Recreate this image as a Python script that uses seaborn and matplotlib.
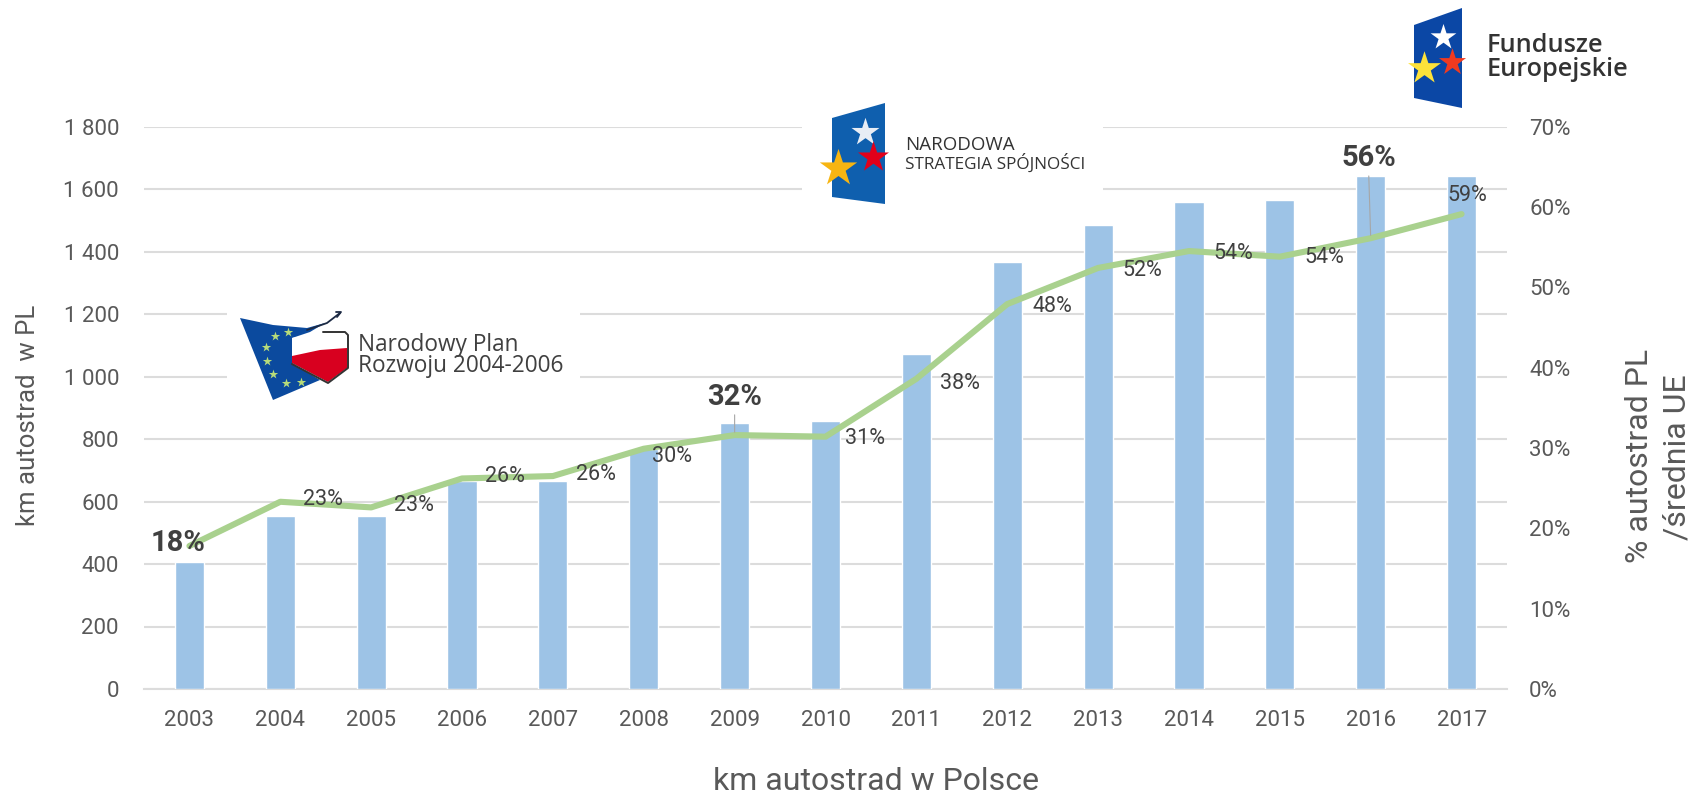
import matplotlib
matplotlib.use("Agg")
import matplotlib.pyplot as plt
from matplotlib.patches import Polygon, Rectangle
import seaborn as sns

years = ["2003","2004","2005","2006","2007","2008","2009","2010","2011","2012","2013","2014","2015","2016","2017"]
km_values = [407,555,555,665,665,767,852,859,1072,1367,1486,1560,1564,1642,1642]
pct_values = [17.8,23.3,22.6,26.2,26.5,29.9,31.6,31.4,38.6,47.9,52.4,54.5,53.8,56.1,59.1]
pct_labels = ["18%","23%","23%","26%","26%","30%","32%","31%","38%","48%","52%","54%","54%","56%","59%"]
bold_years = ["2003","2009","2016"]
left_ticks = [0,200,400,600,800,1000,1200,1400,1600,1800]
left_tick_labels = ["0","200","400","600","800","1 000","1 200","1 400","1 600","1 800"]
right_ticks = [0,10,20,30,40,50,60,70]
right_tick_labels = ["0%","10%","20%","30%","40%","50%","60%","70%"]

W, H = 1696, 795
sns.set_theme(style="white")
plt.rcParams["font.family"] = ["Roboto", "DejaVu Sans"]
TXT = "#595959"; DARK = "#404040"

fig = plt.figure(figsize=(W/100, H/100), dpi=100, facecolor="white")
L, R, T, B = 144, 1507, 126.5, 689
ax = fig.add_axes([L/W, 1-B/H, (R-L)/W, (B-T)/H])
sns.barplot(x=years, y=km_values, ax=ax, color="#9dc3e6", saturation=1, width=0.32, zorder=3)
ax.set_ylim(0, 1800); ax.set_xlim(-0.5, 14.5)
ax.set_yticks(left_ticks, left_tick_labels)
ax.grid(axis="y", color="#dcdcdc", lw=1.5, zorder=0); ax.set_axisbelow(True)
ax.tick_params(axis="y", length=0, pad=18, labelsize=16, labelcolor=TXT)
ax.tick_params(axis="x", length=0, pad=15, labelsize=16, labelcolor=TXT)
ax.set_xlabel(""); ax.set_ylabel("")
for s in ax.spines.values(): s.set_visible(False)
ax.spines["bottom"].set_visible(True); ax.spines["bottom"].set_color("#dcdcdc"); ax.spines["bottom"].set_linewidth(1.5)

tw = ax.twinx()
sns.lineplot(x=years, y=pct_values, ax=tw, color="#a9d18e", lw=4.4, sort=False, solid_capstyle="round")
tw.set_ylim(0, 70); tw.set_xlim(-0.5, 14.5)
tw.set_yticks(right_ticks, right_tick_labels)
tw.tick_params(axis="y", length=0, pad=16, labelsize=16, labelcolor=TXT)
tw.set_ylabel("")
for s in tw.spines.values(): s.set_visible(False)
tw.grid(False)

# label offsets, in px of the target (dx right, dy down)
offs = [(-11,-3),(43,-2),(43,-2),(43,-2),(43,-2),(28,8),(0,-38),(39,2),(44,5),(45,2),(44,3),(44,2),(44,1),(-2,-80),(6,-19)]
for i, (y, lab, (dx, dy)) in enumerate(zip(pct_values, pct_labels, offs)):
    bold = years[i] in bold_years
    if years[i] in ("2009", "2016"):
        tw.annotate("", xy=(i, y), xytext=(dx*.72, (-dy-15)*.72), textcoords="offset points",
                    arrowprops=dict(arrowstyle="-", color="#a6a6a6", lw=0.8))
    tw.annotate(lab, xy=(i, y), xytext=(dx*.72, -dy*.72), textcoords="offset points",
                ha="center", va="center", fontsize=21 if bold else 15.5,
                fontweight="bold" if bold else "normal", color=DARK)

fig.text(876/W, 1-781/H, "km autostrad w Polsce", ha="center", va="center", fontsize=23, color=TXT)
fig.text(28/W, 1-415/H, "km autostrad  w PL", rotation=90, ha="center", va="center", fontsize=18.5, color=TXT)
fig.text(1639/W, 1-456/H, "% autostrad PL", rotation=90, ha="center", va="center", fontsize=23, color=TXT)
fig.text(1677/W, 1-457/H, "/średnia UE", rotation=90, ha="center", va="center", fontsize=23, color=TXT)

# logos as overlay in target pixels
lg = fig.add_axes([0, 0, 1, 1], zorder=10); lg.set_xlim(0, W); lg.set_ylim(H, 0); lg.axis("off"); lg.patch.set_alpha(0)
def poly(pts, c, z=2): lg.add_patch(Polygon(pts, closed=True, fc=c, ec="none", zorder=z))
def star(x, y, s, c, z=3): lg.scatter([x], [y], marker="*", s=s, c=c, linewidths=0, zorder=z)

lg.add_patch(Rectangle((227, 298), 353, 108, fc="white", ec="none", zorder=1))
poly([(240,318),(273,325),(307,328),(325,323),(310,332),(292,338),(292,363),(320,380),(273,400)], "#0b4a9e")
lg.plot([307,327,340],[330,323,313], color="#1c2a44", lw=1.3, zorder=3)
lg.plot([336,341,337],[312,312,317], color="#1c2a44", lw=1.3, zorder=3)
poly([(292,338),(323,332),(347,333),(347,348),(320,350),(292,356)], "#ffffff", 3)
poly([(292,356),(320,350),(347,348),(347,368),(328,382),(292,363)], "#d8001f", 3)
lg.plot([323,345,348,348,328,292],[332,332,335,368,383,364], color="#333333", lw=1.4, zorder=4)
for x, y in [(275,336),(288,332),(266,347),(267,361),(273,374),(286,383),(301,382)]:
    star(x, y, 50, "#b7dc7a")
lg.text(358, 345, "Narodowy Plan", fontsize=16.3, color="#404040", va="center", family="Open Sans")
lg.text(358, 366, "Rozwoju 2004-2006", fontsize=16.3, color="#404040", va="center", family="Open Sans")

lg.add_patch(Rectangle((802, 100), 301, 108, fc="white", ec="none", zorder=1))
poly([(832,118),(885,103),(885,204),(832,197)], "#0f5fae")
star(865, 132, 450, "#e8edf5"); star(873, 157, 550, "#e2001a"); star(838, 168, 800, "#f7b512")
lg.text(905, 145, "NARODOWA", fontsize=13.5, color="#333333", va="center", family="Open Sans")
lg.text(905, 163, "STRATEGIA SPÓJNOŚCI", fontsize=12.3, color="#333333", va="center", family="Open Sans")

poly([(1414,25),(1462,8),(1462,108),(1414,98)], "#0b47a5")
star(1443, 37, 380, "#ffffff"); star(1452, 62, 420, "#f03a20"); star(1424, 68, 620, "#fde23a")
lg.text(1487, 45, "Fundusze", fontsize=18.2, color="#333333", va="center", family="Open Sans", fontweight="semibold")
lg.text(1487, 70, "Europejskie", fontsize=18.2, color="#333333", va="center", family="Open Sans", fontweight="semibold")

fig.savefig("out.png", dpi=100, facecolor="white")
